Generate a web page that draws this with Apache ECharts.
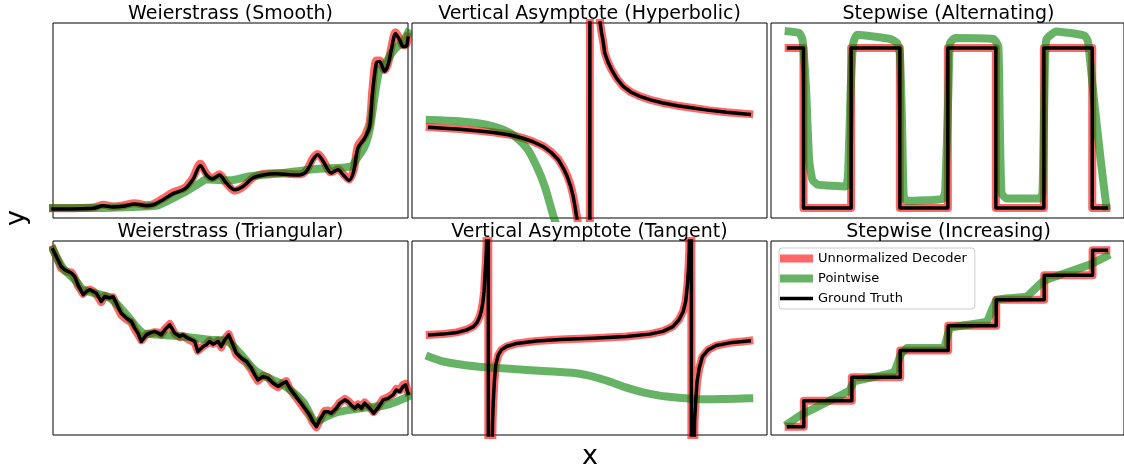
<!DOCTYPE html>
<html>
<head>
<meta charset="utf-8">
<script src="https://cdn.jsdelivr.net/npm/echarts@6/dist/echarts.min.js"></script>
<style>
html,body{margin:0;padding:0;background:#fff;}
#chart{width:1124px;height:470px;}
</style>
</head>
<body>
<div id="chart"></div>
<script>
// ---- Data (x and y, in percent of each panel) ----
const panelTitles = ['Weierstrass (Smooth)', 'Vertical Asymptote (Hyperbolic)', 'Stepwise (Alternating)',
                     'Weierstrass (Triangular)', 'Vertical Asymptote (Tangent)', 'Stepwise (Increasing)'];
const seriesNames = ['Unnormalized Decoder', 'Pointwise', 'Ground Truth'];
const axisNames = ['x', 'y'];

// Panel 1: Weierstrass (Smooth)
const smoothTruth = [[0,4.6],[11.3,5.0],[14.1,6.3],[16.9,5.6],[19.7,6.0],[23.0,7.2],[26.3,6.3],[28.2,6.7],[31.0,9.4],[33.8,12.5],[37.1,14.9],[39.4,19.7],[41.5,26.8],[43.2,22.2],[44.9,20.0],[46.9,22.1],[48.8,17.9],[51.2,14.5],[53.5,16.2],[56.3,20.5],[59.2,22.1],[62.9,22.7],[66.7,22.2],[69.5,22.1],[71.4,23.9],[73.2,29.9],[74.6,32.5],[76.1,29.1],[78.4,23.1],[80.3,24.8],[81.7,22.2],[83.4,19.3],[84.7,23.9],[85.9,35.9],[87.8,41.0],[89.2,47.0],[90.0,64.1],[91.1,79.5],[92.0,80.3],[93.4,75.2],[94.4,78.6],[95.3,86.3],[96.5,94.5],[97.7,91.1],[98.6,88.0],[99.5,88.0],[100,92.3]];
const smoothDecoder = [[0,5.0],[11.3,5.4],[14.1,6.8],[16.9,5.9],[19.7,6.4],[23.0,7.6],[26.3,6.6],[28.2,7.1],[31.0,10.0],[33.8,13.2],[37.1,15.5],[39.4,20.6],[41.5,27.8],[43.2,22.8],[44.9,20.5],[46.9,22.4],[48.8,18.0],[51.2,14.0],[53.5,16.0],[56.3,20.7],[59.2,22.6],[62.9,23.0],[66.7,22.6],[69.5,22.4],[71.4,24.5],[73.2,30.6],[74.6,32.8],[76.1,29.5],[78.4,23.4],[80.3,25.0],[81.7,22.6],[83.4,19.8],[84.7,24.6],[85.9,37.0],[87.8,42.0],[89.2,49.0],[90.0,66.5],[91.1,80.8],[92.0,80.8],[93.4,75.8],[94.4,79.4],[95.3,87.6],[96.5,95.2],[97.7,91.8],[98.6,88.6],[99.5,89.0],[100,93.0]];
const smoothPointwise = [[0,5.1],[11.3,5.1],[27.2,6.0],[30.0,6.8],[36.6,12.8],[41.3,17.9],[43.2,19.7],[49.8,19.3],[55.4,21.4],[64.8,23.1],[74.2,25.1],[84.0,26.5],[85.4,29.9],[87.8,36.8],[89.2,45.3],[90.6,62.4],[92.0,76.1],[93.4,78.6],[95.8,85.5],[98.6,90.6],[100,94.9]];

// Panel 2: Vertical Asymptote (Hyperbolic)
const hyperTruth = [[5,46.5],[8.8,46.0],[13.5,45.5],[18.2,44.8],[22.9,43.9],[27.6,42.6],[31.3,40.9],[34.1,39.1],[37.0,36.6],[39.3,33.5],[41.2,29.9],[42.6,25.6],[43.7,21.4],[44.7,16.2],[45.4,11.1],[45.9,6.0],[46.5,-0.9],[47.5,-20],[48.7,-80],[49.9,-3000],[50.3,3000],[51.5,250],[52.3,130],[53.0,100],[53.4,95],[53.8,91],[54.3,84.6],[55.2,80.0],[56.2,76.1],[57.7,71.5],[59.5,67.5],[61.7,64.5],[64.2,62.4],[67.2,60.6],[70.7,59.0],[74.8,57.6],[79.2,56.4],[83.8,55.2],[88.6,54.2],[95,53.2]];
const hyperDecoder = [[5,46.6],[8.8,46.1],[13.5,45.6],[18.2,44.9],[22.9,44.0],[27.6,42.7],[31.3,41.0],[34.1,39.2],[37.0,36.8],[39.3,33.7],[41.2,30.2],[42.6,26.0],[43.7,21.8],[44.7,16.8],[45.4,11.6],[45.9,6.6],[46.6,-0.5],[47.5,-20],[48.7,-80],[49.9,-3000],[50.3,3000],[51.5,250],[52.3,130],[53.0,100],[53.4,95],[53.8,91],[54.3,84.6],[55.2,80.0],[56.2,76.1],[57.7,71.5],[59.5,67.5],[61.7,64.5],[64.2,62.4],[67.2,60.6],[70.7,59.0],[74.8,57.6],[79.2,56.4],[83.8,55.2],[88.6,54.2],[95,53.3]];
const hyperPointwise = [[5,50.3],[13.5,49.6],[21.0,47.9],[27.6,43.6],[32.3,35.9],[35.1,26.5],[37.4,16.2],[40.0,0],[42.0,-10],[45.0,-25]];

// Panel 3: Stepwise (Alternating)
const altTruth = [[5,87.2],[9.2,87.2],[9.2,5.1],[22.7,5.1],[22.7,87.2],[36.5,87.2],[36.5,5.1],[50.1,5.1],[50.1,87.2],[63.7,87.2],[63.7,5.1],[77.3,5.1],[77.3,87.2],[91.0,87.2],[91.0,5.1],[95,5.1]];
const altDecoder = [[5,87.2],[9.2,87.2],[9.2,5.1],[22.7,5.1],[22.7,87.2],[36.5,87.2],[36.5,5.1],[50.1,5.1],[50.1,87.2],[63.7,87.2],[63.7,5.1],[77.3,5.1],[77.3,87.2],[91.0,87.2],[91.0,5.1],[95,5.1]];
const altPointwise = [[5,95.7],[8.0,94.9],[8.9,91.5],[9.9,67.5],[10.8,29.9],[11.7,19.7],[13.2,17.1],[21.1,16.2],[21.8,21.4],[22.6,67.5],[23.3,89.7],[24.4,94.0],[33.8,91.8],[35.7,89.7],[36.5,84.6],[37.1,50.4],[37.6,11.1],[38.5,8.8],[48.4,9.7],[49.3,12.8],[50.3,67.5],[50.7,89.7],[52.2,92.3],[63.0,91.8],[64.4,88.0],[64.8,50.4],[65.3,12.8],[66.7,10.0],[76.1,10.0],[76.9,12.8],[77.5,67.5],[78.0,91.5],[80.8,95.7],[88.8,93.5],[89.8,90.6],[91.6,59],[93.5,28.2],[95.0,6.0]];

// Panel 4: Weierstrass (Triangular)
const triTruth = [[0,95.5],[0.9,92.1],[2.3,86.9],[3.3,85.2],[4.2,84.3],[5.2,83.5],[6.1,81.8],[7.0,77.5],[8.5,72.3],[9.4,74.0],[10.3,74.9],[11.3,74.0],[12.2,73.1],[13.6,68.8],[14.6,71.4],[16.0,70.6],[16.9,71.4],[17.8,68.0],[19.2,62.8],[20.7,60.2],[22.1,58.5],[23.0,55.1],[23.9,52.5],[24.9,48.2],[26.3,51.6],[27.2,52.5],[28.6,53.4],[29.6,52.5],[30.5,51.6],[31.5,54.2],[32.9,56.8],[34.3,52.5],[35.7,50.8],[36.6,51.6],[38.0,49.9],[39.0,49.1],[39.9,48.2],[40.8,43.0],[42.3,45.6],[43.2,46.5],[44.1,48.2],[45.1,46.8],[46.5,48.2],[47.4,45.6],[48.4,49.1],[49.5,51.6],[50.7,46.5],[51.6,42.2],[53.1,39.6],[54.5,37.9],[55.9,34.4],[56.8,31.0],[57.7,28.4],[59.2,30.1],[60.6,29.3],[62.0,26.7],[63.4,25.0],[64.8,26.7],[65.7,27.5],[66.7,24.1],[68.1,20.7],[69.5,17.2],[70.9,13.8],[72.3,10.3],[73.2,6.9],[74.2,4.3],[75.1,7.7],[76.5,12.0],[77.5,12.0],[78.4,11.2],[79.8,13.8],[80.8,16.4],[82.2,18.1],[83.1,17.2],[84.0,15.5],[85.0,13.8],[85.9,15.5],[86.9,13.8],[87.8,16.4],[89.2,13.8],[90.3,11.2],[91.5,13.8],[93.0,18.1],[94.4,18.9],[95.8,20.7],[96.7,23.2],[97.7,22.4],[98.6,25.0],[99.3,25.8],[100,21.5]];
const triDecoder = [[0,95.8],[0.9,92.0],[2.3,86.0],[3.3,84.6],[4.2,84.0],[5.2,83.8],[6.1,81.0],[7.0,77.0],[8.5,72.8],[9.4,74.5],[10.3,75.0],[11.3,74.2],[12.2,72.6],[13.6,68.5],[14.6,71.8],[16.0,71.0],[16.9,71.0],[17.8,67.0],[19.2,62.0],[20.7,59.6],[22.1,58.0],[23.0,54.6],[23.9,52.0],[24.9,48.8],[26.3,51.8],[27.2,52.2],[28.6,53.0],[29.6,52.8],[30.5,51.8],[31.5,54.6],[32.9,57.2],[34.3,52.2],[35.7,50.4],[36.6,51.0],[38.0,49.4],[39.0,48.6],[39.9,47.6],[40.8,43.4],[42.3,45.8],[43.2,46.8],[44.1,48.6],[45.1,47.0],[46.5,48.6],[47.4,45.2],[48.4,49.6],[49.5,52.0],[50.7,46.0],[51.6,41.5],[53.1,39.0],[54.5,37.2],[55.9,33.6],[56.8,30.5],[57.7,28.0],[59.2,30.5],[60.6,29.6],[62.0,26.2],[63.4,24.6],[64.8,26.9],[65.7,27.8],[66.7,23.6],[68.1,20.2],[69.5,16.8],[70.9,13.2],[72.3,9.8],[73.2,6.4],[74.2,4.0],[75.1,7.2],[76.5,12.4],[77.5,12.6],[78.4,11.6],[79.8,14.2],[80.8,16.8],[82.2,18.6],[83.1,17.6],[84.0,15.9],[85.0,14.2],[85.9,15.8],[86.9,14.2],[87.8,16.8],[89.2,14.3],[90.3,11.8],[91.5,14.5],[93.0,18.5],[94.4,19.5],[95.8,21.2],[96.7,23.8],[97.7,23.0],[98.6,25.8],[99.3,26.4],[100,22.2]];
const triPointwise = [[0,95.5],[2.8,86.1],[6.6,79.2],[8.5,74.9],[16.0,70.6],[20.7,62.0],[25.4,52.5],[27.2,52.1],[36.6,50.8],[44.1,49.1],[48.8,48.5],[52.6,42.2],[57.3,32.7],[64.8,25.8],[70.4,17.2],[74.2,6.9],[77.0,9.5],[80.8,12.0],[88.3,14.1],[93.0,15.1],[96.7,17.2],[100,19.8]];

// Panel 5: Vertical Asymptote (Tangent)
const tanTruth = [[5,51.6],[8.8,52.0],[12.6,52.8],[15.4,54.2],[17.3,55.9],[18.4,58.2],[19.1,61.1],[19.6,64.5],[20.0,68.8],[20.3,74.0],[20.5,80.9],[20.8,89.5],[21.0,98.1],[21.2,140],[21.3,400],[21.4,3000],[21.6,-3000],[21.9,-400],[22.15,-100],[22.4,-20],[22.7,6.9],[22.9,17.2],[23.2,27.5],[23.6,36.1],[24.3,41.3],[25.2,43.9],[26.6,45.6],[29.5,47.2],[35.1,48.5],[41.7,49.2],[51.0,49.9],[60.4,50.8],[67.0,52.0],[70.7,53.4],[73.5,55.9],[75.2,59.4],[76.4,63.7],[77.1,68.8],[77.6,77.5],[77.9,86.1],[78.1,94.7],[78.3,130],[78.45,400],[78.6,3000],[78.8,-3000],[79.0,-400],[79.25,-100],[79.4,-20],[79.6,6.9],[79.9,17.2],[80.3,27.5],[80.9,34.4],[81.8,40.4],[83.4,43.9],[85.7,46.1],[89.5,47.5],[93.2,48.2],[95,48.5]];
const tanDecoder = [[5,51.7],[8.8,52.1],[12.6,52.9],[15.4,54.3],[17.3,56.0],[18.4,58.4],[19.1,61.3],[19.6,64.7],[20.0,69.0],[20.3,74.2],[20.5,81.0],[20.8,89.6],[21.0,98.1],[21.2,140],[21.3,400],[21.4,3000],[21.6,-3000],[21.9,-400],[22.15,-100],[22.4,-20],[22.7,6.9],[22.9,17.0],[23.2,27.3],[23.6,36.0],[24.3,41.2],[25.2,43.9],[26.6,45.6],[29.5,47.2],[35.1,48.5],[41.7,49.2],[51.0,49.9],[60.4,50.8],[67.0,52.0],[70.7,53.5],[73.5,56.0],[75.2,59.5],[76.4,63.9],[77.1,69.0],[77.6,77.7],[77.9,86.3],[78.1,94.8],[78.3,130],[78.45,400],[78.6,3000],[78.8,-3000],[79.0,-400],[79.25,-100],[79.4,-20],[79.6,6.9],[79.9,17.0],[80.3,27.3],[80.9,34.3],[81.8,40.3],[83.4,43.9],[85.7,46.1],[89.5,47.5],[93.2,48.2],[95,48.6]];
const tanPointwise = [[5,40.2],[8.8,37.9],[18.2,35.3],[27.6,34.1],[37.0,33.0],[46.3,31.8],[51.0,30.1],[55.7,27.5],[60.4,24.4],[65.1,22.0],[69.8,20.3],[74.5,19.3],[79.2,18.6],[83.9,18.4],[88.6,18.6],[95,18.9]];

// Panel 6: Stepwise (Increasing)
const incTruth = [[5,4.3],[9.3,4.3],[9.3,17.7],[22.9,17.7],[22.9,29.8],[36.6,29.8],[36.6,43.5],[50.2,43.5],[50.2,56.3],[63.8,56.3],[63.8,69.7],[77.4,69.7],[77.4,82.3],[91.1,82.3],[91.1,95.2],[95,95.2]];
const incDecoder = [[5,4.3],[9.3,4.3],[9.3,17.7],[22.9,17.7],[22.9,29.8],[36.6,29.8],[36.6,43.5],[50.2,43.5],[50.2,56.3],[63.8,56.3],[63.8,69.7],[77.4,69.7],[77.4,82.3],[91.1,82.3],[91.1,95.2],[95,95.2]];
const incPointwise = [[5,6.0],[8.5,10.3],[22.1,22.7],[23.5,27.5],[34.8,32.4],[36.7,41.3],[38.5,44.8],[48.9,44.8],[50.7,55.1],[61.1,58.5],[63.9,69.7],[72.4,71.4],[77.1,79.2],[90.2,87.8],[95,92.1]];

// ---- Layout / style ----
const panelData = [
  [smoothDecoder, smoothPointwise, smoothTruth],
  [hyperDecoder, hyperPointwise, hyperTruth],
  [altDecoder, altPointwise, altTruth],
  [triDecoder, triPointwise, triTruth],
  [tanDecoder, tanPointwise, tanTruth],
  [incDecoder, incPointwise, incTruth]
];
const smoothing = [[0.3,0.3,0.3],[0,0.3,0],[0,0.15,0],[0,0.3,0],[0,0.3,0],[0,0.1,0]];
const colLeft = [53, 412, 771];
const rowTop = [23, 241];
const rowH = [195, 194];
const PW = 355;
const colors = ['rgba(255,0,0,0.6)', 'rgba(0,128,0,0.6)', '#000000'];
const widths = [8, 8, 3.5];
const FONT = 'DejaVu Sans';

const grid = [], xAxis = [], yAxis = [], series = [], title = [];
for (let i = 0; i < 6; i++) {
  const c = i % 3, r = Math.floor(i / 3);
  grid.push({left: colLeft[c], top: rowTop[r], width: PW, height: rowH[r], show: true,
             borderColor: '#000', borderWidth: 1, backgroundColor: 'transparent', containLabel: false});
  xAxis.push({gridIndex: i, type: 'value', min: 0, max: 100, show: false});
  yAxis.push({gridIndex: i, type: 'value', min: 0, max: 100, show: false});
  title.push({text: panelTitles[i], left: colLeft[c] + PW / 2, top: r === 0 ? 5 : 223, textAlign: 'center', padding: 0,
              textStyle: {fontFamily: FONT, fontSize: 19, fontWeight: 'normal', color: '#000'}});
  for (let s = 0; s < 3; s++) {
    series.push({
      name: seriesNames[s], type: 'line', xAxisIndex: i, yAxisIndex: i,
      data: panelData[i][s], showSymbol: false, symbol: 'none', smooth: smoothing[i][s],
      clip: true, animation: false, silent: true,
      color: colors[s],
      lineStyle: {color: colors[s], width: widths[s], join: 'round', cap: 'square'}
    });
  }
}

const chart = echarts.init(document.getElementById('chart'), null, {renderer: 'canvas'});
chart.setOption({
  animation: false,
  backgroundColor: '#fff',
  title: title,
  grid: grid, xAxis: xAxis, yAxis: yAxis, series: series,
  legend: {
    data: [
      {name: seriesNames[0], icon: 'path://M0,0L33,0L33,8L0,8Z'},
      {name: seriesNames[1], icon: 'path://M0,0L33,0L33,8L0,8Z'},
      {name: seriesNames[2], icon: 'path://M0,0L33,0L33,3.5L0,3.5Z'}
    ],
    orient: 'vertical', left: 779, top: 248,
    itemWidth: 33, itemHeight: 12, itemGap: 7, itemTextGap: 7,
    padding: [4, 8, 4, 1],
    borderColor: '#cccccc', borderWidth: 1, borderRadius: 3,
    backgroundColor: 'rgba(255,255,255,0.8)',
    selectedMode: false,
    textStyle: {fontFamily: FONT, fontSize: 13, color: '#000'}
  },
  graphic: [
    {type: 'text', x: 590, y: 457,
     style: {text: axisNames[0], fontFamily: FONT, fontSize: 27, fill: '#000', align: 'center', verticalAlign: 'middle'}},
    {type: 'group', x: 17, y: 218, rotation: Math.PI / 2,
     children: [{type: 'text', x: 0, y: 0,
       style: {text: axisNames[1], fontFamily: FONT, fontSize: 27, fill: '#000', align: 'center', verticalAlign: 'middle'}}]}
  ]
});
</script>
</body>
</html>
